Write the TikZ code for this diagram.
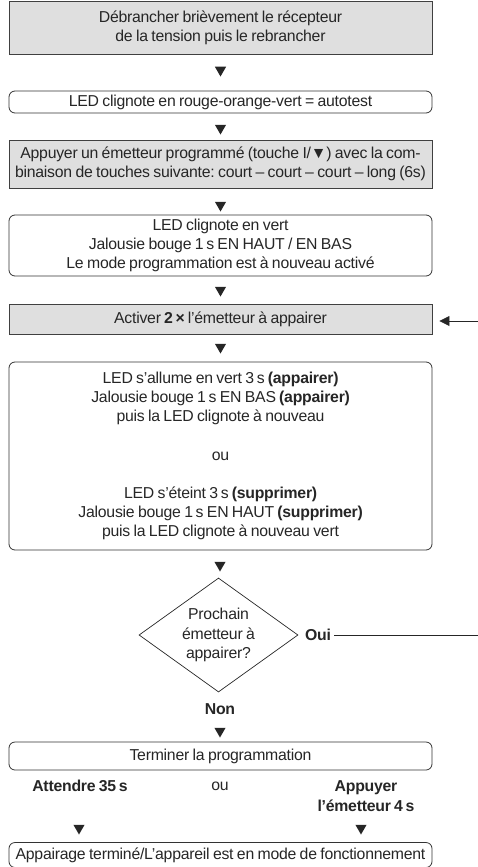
\documentclass[tikz,border=0pt]{standalone}
\usepackage{fontspec}
\setmainfont{Liberation Sans}[LetterSpace=-1.5, WordSpace=0.8]
\usetikzlibrary{shapes.geometric, arrows.meta}
\frenchspacing
\begin{document}
\begin{tikzpicture}[x=1pt, y=-1pt,
    every node/.style={font=\fontsize{15.8}{19.3}\selectfont, align=center, text=black!85},
    graybox/.style={rectangle, draw=black!75, line width=0.9pt, fill=gray!25,
                    minimum width=423pt, inner sep=0pt},
    roundbox/.style={rectangle, draw=black!80, line width=0.8pt, rounded corners=6pt,
                     minimum width=423pt, inner sep=0pt},
    decision/.style={diamond, draw=black!85, line width=0.7pt, aspect=1.39,
                     minimum width=159pt, minimum height=114pt, inner sep=0pt},
    tri/.style={regular polygon, regular polygon sides=3, shape border rotate=180,
                fill=black!85, inner sep=0pt, minimum size=13pt},
    arr/.style={-{Triangle[length=10pt, width=10pt]}, line width=0.8pt, black!85},
    lbl/.style={font=\fontsize{15.8}{19.3}\selectfont\bfseries},
]
\useasboundingbox (0,0) rectangle (478,867);
\node[graybox, minimum height=53pt]  (reset) at (220.5, 27.5) {Débrancher brièvement le récepteur \\ de la tension puis le rebrancher};
\node[roundbox, minimum height=22pt] (test)  at (220.5, 102) {LED clignote en rouge-orange-vert = autotest};
\node[graybox, minimum height=48pt]  (combo) at (220.5, 164) {Appuyer un émetteur programmé (touche I/▼) avec la com- \\ binaison de touches suivante: court -- court -- court -- long (6s)};
\node[roundbox, minimum height=61pt] (prog)  at (220.5, 245.5) {LED clignote en vert \\ Jalousie bouge 1\,s EN HAUT / EN BAS \\ Le mode programmation est à nouveau activé};
\node[graybox, minimum height=30pt]  (send)  at (220.5, 319) {Activer \textbf{2\,×} l’émetteur à appairer};
\node[roundbox, minimum height=188pt] (result) at (220.5, 456) {LED s’allume en vert 3\,s \textbf{(appairer)} \\ Jalousie bouge 1\,s EN BAS \textbf{(appairer)} \\ puis la LED clignote à nouveau \\[19pt] ou \\[19pt] LED s’éteint 3\,s \textbf{(supprimer)} \\ Jalousie bouge 1\,s EN HAUT \textbf{(supprimer)} \\ puis la LED clignote à nouveau vert};
\node[decision] (next) at (218.5, 635) {Prochain \\ émetteur à \\ appairer?};
\node[roundbox, minimum height=28pt] (stop)  at (220.5, 756) {Terminer la programmation};
\node[roundbox, minimum height=25pt] (done)  at (220.5, 855) {Appairage terminé/L’appareil est en mode de fonctionnement};
% labels
\node[lbl] (oui)  at (318, 635) {Oui};
\node[lbl] (non)  at (220, 709) {Non};
\node[lbl] (wait) at (80, 786) {Attendre 35\,s};
\node (or) at (220, 786) {ou};
\node[lbl] (press) at (366, 796) {Appuyer \\ l’émetteur 4\,s};
% markers
\node[tri] (t1) at (220.5, 70) {};
\node[tri] (t2) at (220.5, 128) {};
\node[tri] (t3) at (220.5, 205) {};
\node[tri] (t4) at (220.5, 290) {};
\node[tri] (t5) at (220.5, 347) {};
\node[tri] (t6) at (220, 565) {};
\node[tri] (t7) at (220, 731) {};
\node[tri] (t8) at (79, 828) {};
\node[tri] (t9) at (361, 828) {};
% loop back
\coordinate (ouiend) at (478, 635);
\coordinate (sendin) at (478, 321);
\draw[line width=0.8pt, black!85] (oui.east) -- (ouiend);
\draw[arr, shorten >=7pt] (sendin) -- (sendin -| send.east);
\end{tikzpicture}
\end{document}
